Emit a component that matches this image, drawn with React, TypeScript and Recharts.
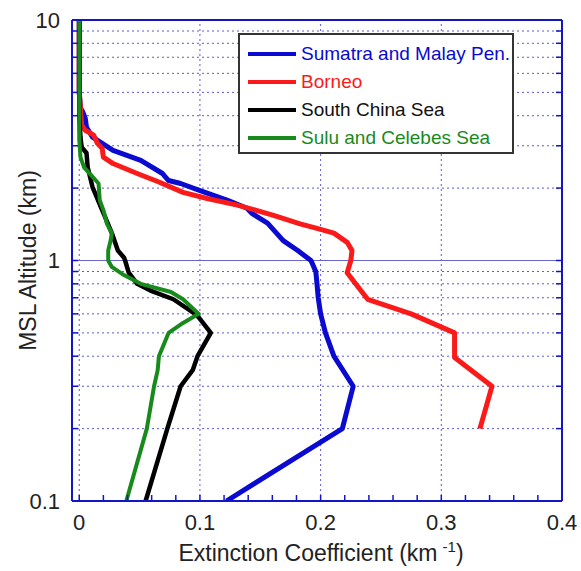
import React from 'react';
import { LineChart, Line, XAxis, YAxis, CartesianGrid, ReferenceLine, Legend } from 'recharts';

// altitude (km) / extinction (km^-1), bottom to top
const sumatraAlt = [0.1, 0.2, 0.3, 0.4, 0.5, 0.6, 0.7, 0.8, 0.9, 1.0, 1.1, 1.21, 1.43, 1.57, 1.65, 1.78, 1.96, 2.09, 2.15, 2.3, 2.61, 2.87, 3.07, 3.26, 3.58, 3.9, 4.14, 4.3, 5, 10];
const sumatraExt = [0.122, 0.218, 0.227, 0.211, 0.204, 0.2, 0.198, 0.197, 0.196, 0.192, 0.181, 0.169, 0.156, 0.143, 0.139, 0.123, 0.099, 0.084, 0.074, 0.069, 0.051, 0.028, 0.019, 0.011, 0.006, 0.005, 0.003, 0.001, 0, 0];

const borneoAlt = [0.2, 0.3, 0.395, 0.5, 0.6, 0.69, 0.8, 0.89, 1.0, 1.1, 1.19, 1.3, 1.36, 1.42, 1.54, 1.62, 1.7, 1.81, 1.92, 2.12, 2.3, 2.53, 2.69, 2.93, 3.07, 3.32, 3.48, 3.65, 4.3, 5, 10];
const borneoExt = [0.332, 0.342, 0.311, 0.311, 0.275, 0.239, 0.229, 0.222, 0.225, 0.226, 0.222, 0.211, 0.197, 0.183, 0.161, 0.146, 0.131, 0.106, 0.086, 0.066, 0.048, 0.028, 0.02, 0.019, 0.015, 0.012, 0.005, 0.002, 0.001, 0, 0];

const scsAlt = [0.1, 0.2, 0.3, 0.35, 0.4, 0.5, 0.58, 0.6, 0.69, 0.75, 0.8, 0.89, 1.0, 1.03, 1.1, 1.3, 1.62, 2.02, 2.44, 2.8, 2.96, 3.26, 4, 10];
const scsExt = [0.055, 0.073, 0.084, 0.094, 0.098, 0.109, 0.099, 0.096, 0.078, 0.059, 0.048, 0.041, 0.038, 0.037, 0.032, 0.027, 0.019, 0.011, 0.007, 0.006, 0.002, 0.001, 0, 0];

const suluAlt = [0.1, 0.2, 0.3, 0.35, 0.4, 0.5, 0.55, 0.6, 0.69, 0.74, 0.8, 0.87, 0.94, 1.0, 1.1, 1.21, 1.3, 1.42, 1.62, 1.78, 2.09, 2.2, 2.44, 2.69, 3.2, 10];
const suluExt = [0.039, 0.056, 0.062, 0.065, 0.066, 0.074, 0.086, 0.099, 0.086, 0.076, 0.051, 0.037, 0.027, 0.024, 0.024, 0.026, 0.027, 0.023, 0.02, 0.017, 0.016, 0.012, 0.004, 0.001, 0, 0];

const seriesNames = ['Sumatra and Malay Pen.', 'Borneo', 'South China Sea', 'Sulu and Celebes Sea'];

const xTicks = [0, 0.02, 0.04, 0.06, 0.08, 0.1, 0.12, 0.14, 0.16, 0.18, 0.2, 0.22, 0.24, 0.26, 0.28, 0.3, 0.32, 0.34, 0.36, 0.38, 0.4];
const xMajor = [0, 0.1, 0.2, 0.3, 0.4];
const xLabels = ['0', '0.1', '0.2', '0.3', '0.4'];
const yTicks = [0.1, 0.2, 0.3, 0.4, 0.5, 0.6, 0.7, 0.8, 0.9, 1, 2, 3, 4, 5, 6, 7, 8, 9, 10];
const yMajor = [0.1, 1, 10];
const yLabels = ['0.1', '1', '10'];
const xGrid = [0, 0.1, 0.2, 0.3];

const toRows = (alt: number[], ext: number[]) => alt.map((a, i) => ({ alt: a, ext: ext[i] }));

const AXIS = '#1414c8';
const GRID = '#5c5cd6';
const FONT = '"Liberation Sans", Arial, sans-serif';
const X_DOMAIN = [-0.006, 0.4];
const Y_DOMAIN = [0.1, 10];

const fmtX = (v: number) => {
  const i = xMajor.findIndex((m) => Math.abs(m - v) < 1e-6);
  return i >= 0 ? xLabels[i] : '';
};
const fmtY = (v: number) => {
  const i = yMajor.findIndex((m) => Math.abs(m - v) < 1e-6);
  return i >= 0 ? yLabels[i] : '';
};

const LegendBox = ({ payload }: any) => {
  const items = [...(payload || [])].sort((a: any, b: any) => seriesNames.indexOf(a.value) - seriesNames.indexOf(b.value));
  return (
    <div style={{ width: 276, height: 121, boxSizing: 'border-box', border: '2px solid #333', background: '#fff', paddingTop: 5, fontFamily: FONT }}>
      {items.map((p: any) => (
        <div key={p.value} style={{ height: 28, display: 'flex', alignItems: 'center' }}>
          <div style={{ marginLeft: 8, width: 48, height: 4, background: p.color }} />
          <span style={{ marginLeft: 5, fontSize: 19, color: p.color === '#000000' ? '#111' : p.color }}>{p.value}</span>
        </div>
      ))}
    </div>
  );
};

const XLabel = ({ viewBox }: any) => {
  const cx = viewBox.x + viewBox.width / 2 + 4;
  return (
    <text x={cx} y={561} textAnchor="middle" fontFamily={FONT} fontSize={23} fill="#222">
      Extinction Coefficient (km
      <tspan dx={5} dy={-9} fontSize={15}>-1</tspan>
      <tspan dy={9} fontSize={23}>)</tspan>
    </text>
  );
};

const YLabel = ({ viewBox }: any) => {
  const cy = viewBox.y + viewBox.height / 2;
  const x = 28;
  return (
    <text x={x} y={cy} dy="0.35em" textAnchor="middle" transform={`rotate(-90 ${x} ${cy})`} fontFamily={FONT} fontSize={23} fill="#222">
      MSL Altitude (km)
    </text>
  );
};

export default function App() {
  const tickStyle = { fontFamily: FONT, fontSize: 22, fill: '#222' };
  return (
    <div style={{ position: 'absolute', left: 0, top: 0, width: 581, height: 571, background: '#fff' }}>
      <LineChart width={581} height={571} margin={{ top: 19, right: 18, left: 12, bottom: 30 }}>
        <CartesianGrid vertical={false} stroke={GRID} strokeDasharray="2 3" />
        {xGrid.map((g) => (
          <ReferenceLine key={g} x={g} stroke={GRID} strokeDasharray="2 3" />
        ))}
        <ReferenceLine y={1} stroke="#6666cc" strokeWidth={1} />
        <XAxis
          dataKey="ext"
          type="number"
          domain={X_DOMAIN}
          ticks={xTicks}
          interval={0}
          allowDataOverflow
          tickFormatter={fmtX}
          tick={tickStyle}
          tickSize={-6}
          tickMargin={19}
          height={40}
          axisLine={{ stroke: AXIS, strokeWidth: 2 }}
          tickLine={{ stroke: AXIS, strokeWidth: 1.5 }}
          label={<XLabel />}
        />
        <XAxis
          xAxisId="top"
          orientation="top"
          type="number"
          domain={X_DOMAIN}
          ticks={xTicks}
          interval={0}
          allowDataOverflow
          tickFormatter={() => ''}
          tickSize={-6}
          height={1}
          axisLine={{ stroke: AXIS, strokeWidth: 2 }}
          tickLine={{ stroke: AXIS, strokeWidth: 1.5 }}
        />
        <YAxis
          type="number"
          scale="log"
          domain={Y_DOMAIN}
          ticks={yTicks}
          interval={0}
          allowDataOverflow
          tickFormatter={fmtY}
          tick={tickStyle}
          tickSize={-6}
          tickMargin={18}
          width={60}
          axisLine={{ stroke: AXIS, strokeWidth: 2 }}
          tickLine={{ stroke: AXIS, strokeWidth: 1.5 }}
          label={<YLabel />}
        />
        <YAxis
          yAxisId="right"
          orientation="right"
          type="number"
          scale="log"
          domain={Y_DOMAIN}
          ticks={yTicks}
          interval={0}
          allowDataOverflow
          tickFormatter={() => ''}
          tickSize={-6}
          width={1}
          axisLine={{ stroke: AXIS, strokeWidth: 2 }}
          tickLine={{ stroke: AXIS, strokeWidth: 1.5 }}
        />
        <Legend
          layout="vertical"
          align="center"
          verticalAlign="middle"
          wrapperStyle={{ left: 238, top: 33, width: 276 }}
          content={<LegendBox />}
        />
        <Line data={toRows(sumatraAlt, sumatraExt)} dataKey="alt" name={seriesNames[0]} type="linear" stroke="#0a0ad0" strokeWidth={5} dot={false} activeDot={false} isAnimationActive={false} strokeLinejoin="round" />
        <Line data={toRows(borneoAlt, borneoExt)} dataKey="alt" name={seriesNames[1]} type="linear" stroke="#fa1a1a" strokeWidth={5} dot={false} activeDot={false} isAnimationActive={false} strokeLinejoin="round" />
        <Line data={toRows(scsAlt, scsExt)} dataKey="alt" name={seriesNames[2]} type="linear" stroke="#000000" strokeWidth={4.5} dot={false} activeDot={false} isAnimationActive={false} strokeLinejoin="round" />
        <Line data={toRows(suluAlt, suluExt)} dataKey="alt" name={seriesNames[3]} type="linear" stroke="#188a1c" strokeWidth={4} dot={false} activeDot={false} isAnimationActive={false} strokeLinejoin="round" />
      </LineChart>
    </div>
  );
}
